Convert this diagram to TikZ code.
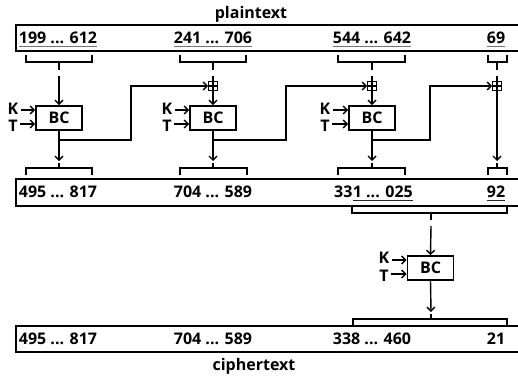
\documentclass[tikz,border=0pt]{standalone}
\usepackage{fontspec}
\setmainfont{Open Sans}
\usetikzlibrary{arrows.meta}
\tikzset{
  lbl/.style={font=\bfseries\fontsize{16}{16}\selectfont, inner sep=0pt},
  wire/.style={line width=1.4pt},
  arr/.style={wire, -{Straight Barb[length=4pt,width=8pt]}},
  bcbox/.style={draw, line width=1.7pt, minimum width=46pt, minimum height=24pt, inner sep=0pt, font=\bfseries\fontsize{16}{16}\selectfont},
  xorbox/.style={draw, line width=1.1pt, minimum width=8.5pt, minimum height=9pt, inner sep=0pt,
    path picture={\draw[line width=1.1pt] (path picture bounding box.north) -- (path picture bounding box.south)
      (path picture bounding box.west) -- (path picture bounding box.east);}},
  rowbox/.style={line width=1.8pt},
  ulgray/.style={line width=1.4pt, black!55},
  ulblack/.style={line width=1.3pt, black!85},
}
\begin{document}
\begin{tikzpicture}[x=1pt,y=-1pt]
\useasboundingbox (0,0) rectangle (518,375);

% labels
\node[lbl] (pt) at (251,14) {plaintext};
\node[lbl] (ct) at (254,366) {ciphertext};

% row boxes
\draw[rowbox] (518,25) -- (16,25) -- (16,51) -- (518,51);
\draw[rowbox] (518,179) -- (16,179) -- (16,206) -- (518,206);
\draw[rowbox] (518,326) -- (16,326) -- (16,352) -- (518,352);

% top numbers
\node[lbl] (p1) at (58,38) {199 ... 612};
\node[lbl] (p2) at (213,38) {241 ... 706};
\node[lbl] (p3) at (372,38) {544 ... 642};
\node[lbl] (p4) at (496,38) {69};
\foreach \n in {p1,p2,p3,p4}
  \draw[ulgray] ([yshift=-2.5pt]\n.south west) -- ([yshift=-2.5pt]\n.south east);

% middle numbers
\node[lbl] (m1) at (58,192) {495 ... 817};
\node[lbl] (m2) at (213,192) {704 ... 589};
\node[lbl, anchor=west] (m3a) at (334,192) {33};
\node[lbl, anchor=west] (m3b) at (m3a.east) {1 ... 025};
\node[lbl] (m4) at (496,192) {92};
\foreach \n in {m3b,m4}
  \draw[ulblack] ([yshift=-2.5pt]\n.south west) -- ([yshift=-2.5pt]\n.south east);

% bottom numbers
\node[lbl] (b1) at (58,339) {495 ... 817};
\node[lbl] (b2) at (213,339) {704 ... 589};
\node[lbl] (b3) at (372,339) {338 ... 460};
\node[lbl] (b4) at (496,339) {21};

% top braces
\foreach \a/\b/\m in {26/92/59, 180/246/213, 338/405/372, 488/507/497}{
  \draw[wire] (\a,55) -- (\a,62) -- (\b,62) -- (\b,55) (\m,62) -- (\m,70);
}
% middle braces (above middle box)
\foreach \a/\b/\m in {26/92/59, 180/247/213, 338/405/372, 488/507/497}{
  \draw[wire] (\a,175) -- (\a,168) -- (\b,168) -- (\b,175) (\m,168) -- (\m,163);
}
% brace below middle box
\draw[wire] (352,207) -- (352,213) -- (507,213) -- (507,207) (431,213) -- (431,220);
% brace above bottom box
\draw[wire] (353,325) -- (353,319) -- (507,319) -- (507,325) (431,319) -- (431,314);

% block ciphers
\node[bcbox] (bc1) at (59,118) {BC};
\node[bcbox] (bc2) at (213,118) {BC};
\node[bcbox] (bc3) at (372,118) {BC};
\node[bcbox] (bc4) at (430.5,268) {BC};

% xor
\node[xorbox] (x2) at (213,86) {};
\node[xorbox] (x3) at (372,86) {};
\node[xorbox] (x4) at (497,86) {};

% K / T inputs
\foreach \i/\x/\ky/\ty/\kay/\tay in {1/13/109/126/110/124, 2/167/109/126/110/124, 3/325/109/126/110/124, 4/384/258/276/260/274}{
  \node[lbl] (k\i) at (\x,\ky) {K};
  \node[lbl] (t\i) at (\x,\ty) {T};
  \draw[arr] ([xshift=2.5pt]k\i.east |- 0,\kay) -- (bc\i.west |- 0,\kay);
  \draw[arr] ([xshift=2.5pt]t\i.east |- 0,\tay) -- (bc\i.west |- 0,\tay);
}

% coordinates for wiring
\coordinate (s1) at (59,76);
\coordinate (s2) at (213,76);
\coordinate (s3) at (372,76);
\coordinate (s4) at (497,76);
\coordinate (o1) at (59,161);
\coordinate (o2) at (213,161);
\coordinate (o3) at (372,161);
\coordinate (o4) at (497,161);
\coordinate (j1) at (59,140);
\coordinate (j2) at (213,140);
\coordinate (j3) at (372,140);
\coordinate (f1) at (131,140);
\coordinate (f2) at (286,140);
\coordinate (f3) at (430,140);
\coordinate (s5) at (431,226);
\coordinate (o5) at (431,312);

% column 1
\draw[arr] (s1) -- (bc1.north);
\draw[arr] (bc1.south) -- (o1);
% column 2
\draw[wire] (s2) -- (x2.north);
\draw[arr] (x2.south) -- (bc2.north);
\draw[arr] (bc2.south) -- (o2);
% column 3
\draw[wire] (s3) -- (x3.north);
\draw[arr] (x3.south) -- (bc3.north);
\draw[arr] (bc3.south) -- (o3);
% column 4
\draw[wire] (s4) -- (x4.north);
\draw[arr] (x4.south) -- (o4);

% feed-forward wires
\draw[arr] (j1) -- (f1) -- (f1 |- x2) -- (x2.west);
\draw[arr] (j2) -- (f2) -- (f2 |- x3) -- (x3.west);
\draw[arr] (j3) -- (f3) -- (f3 |- x4) -- (x4.west);

% second stage
\draw[arr] (s5) -- (bc4.north);
\draw[arr] (bc4.south) -- (o5);
\end{tikzpicture}
\end{document}
